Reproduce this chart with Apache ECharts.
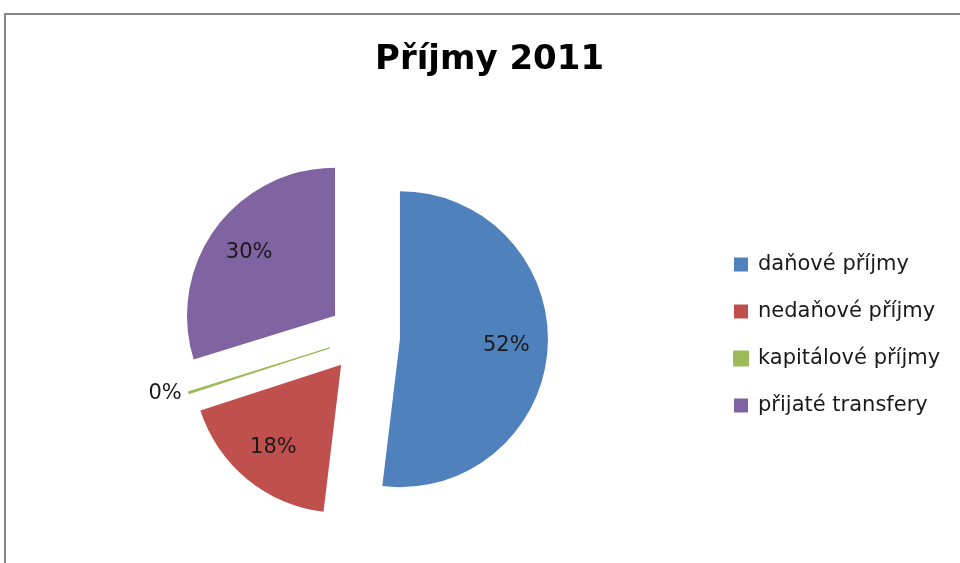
<!DOCTYPE html>
<html>
<head>
<meta charset="utf-8">
<script src="https://cdn.jsdelivr.net/npm/echarts@6/dist/echarts.min.js"></script>
<style>
  html, body { margin: 0; padding: 0; background: #fff; }
  #chart { width: 960px; height: 563px; }
</style>
</head>
<body>
<div id="chart"></div>
<script>
var categories = ['daňové příjmy', 'nedaňové příjmy', 'kapitálové příjmy', 'přijaté transfery'];
var shares = [51.9, 18.1, 0.2, 29.8];
var colors = ['#4F81BD', '#C0504D', '#9BBB59', '#8064A2'];

var fontName = 'DejaVu Sans';
var center = [364, 337];
var radius = 148;
var offset = 36;

// slices + a transparent copy that carries the labels at ~0.7 r
var pieData = [];
var labelData = [];
for (var i = 0; i < categories.length; i++) {
  pieData.push({
    name: categories[i],
    value: shares[i],
    selected: true,
    itemStyle: { color: colors[i], borderColor: colors[i], borderWidth: shares[i] < 1 ? 1 : 0 }
  });
  var lbl = { name: categories[i], value: shares[i], selected: true };
  if (shares[i] < 1) {
    lbl.label = { position: 'outside', color: '#1a1a1a' };
    lbl.labelLine = { show: false, length: 2, length2: 0 };
  }
  labelData.push(lbl);
}

var chart = echarts.init(document.getElementById('chart'));
chart.setOption({
  animation: false,
  backgroundColor: '#ffffff',
  color: colors,
  title: {
    text: 'Příjmy 2011',
    left: 375,
    top: 43,
    padding: 0,
    textStyle: { fontFamily: fontName, fontSize: 34, fontWeight: 'bold', color: '#000' }
  },
  legend: {
    orient: 'vertical',
    left: 728,
    top: 249,
    icon: 'rect',
    itemWidth: 14,
    itemHeight: 14,
    itemGap: 26,
    data: categories,
    selectedMode: false,
    textStyle: { fontFamily: fontName, fontSize: 21, color: '#1a1a1a', lineHeight: 20, padding: [0, 0, 0, 5] }
  },
  graphic: [{
    type: 'rect',
    shape: { x: 5, y: 14, width: 1200, height: 900 },
    style: { fill: 'none', stroke: '#878787', lineWidth: 2 },
    silent: true
  }],
  series: [
    {
      name: 'Příjmy 2011',
      type: 'pie',
      center: center,
      radius: [0, radius],
      startAngle: 90,
      clockwise: true,
      selectedMode: 'multiple',
      selectedOffset: offset,
      avoidLabelOverlap: false,
      label: { show: false },
      labelLine: { show: false },
      emphasis: { disabled: true },
      data: pieData
    },
    {
      name: 'labels',
      type: 'pie',
      center: center,
      radius: [radius * 0.4, radius],
      startAngle: 90,
      clockwise: true,
      selectedMode: 'multiple',
      selectedOffset: offset,
      silent: true,
      legendHoverLink: false,
      avoidLabelOverlap: false,
      percentPrecision: 0,
      itemStyle: { color: 'rgba(0,0,0,0)' },
      label: {
        show: true,
        position: 'inside',
        formatter: '{d}%',
        fontFamily: fontName,
        fontSize: 21,
        color: '#1a1a1a'
      },
      labelLine: { show: false },
      emphasis: { disabled: true },
      data: labelData
    }
  ]
});
</script>
</body>
</html>
